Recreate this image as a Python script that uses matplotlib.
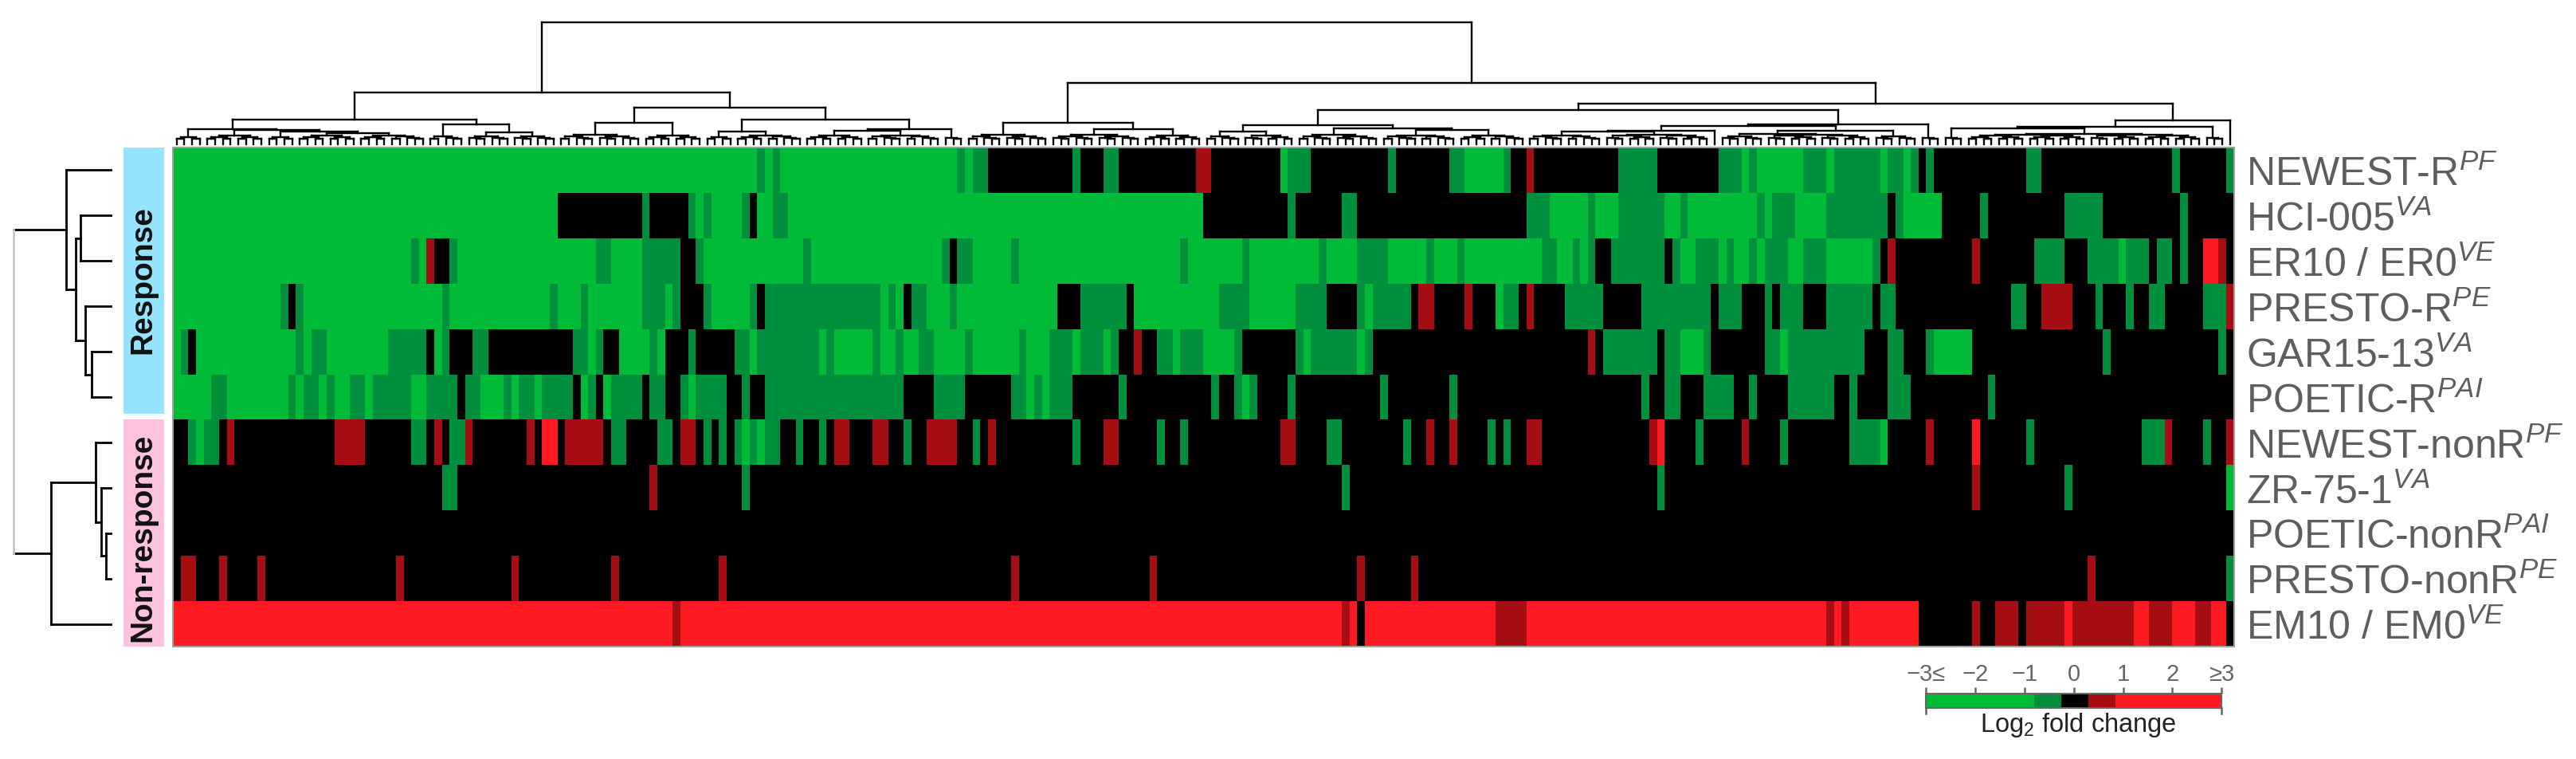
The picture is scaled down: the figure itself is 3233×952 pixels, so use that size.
import matplotlib
matplotlib.use("Agg")
import matplotlib.pyplot as plt
import numpy as np
from matplotlib.colors import ListedColormap, BoundaryNorm
from matplotlib.patches import Rectangle

plt.rcParams["font.family"] = ["Liberation Sans", "DejaVu Sans"]
plt.rcParams["mathtext.fontset"] = "custom"
plt.rcParams["mathtext.rm"] = "Liberation Sans"
plt.rcParams["mathtext.it"] = "Liberation Sans:italic"
plt.rcParams["mathtext.default"] = "regular"

W, H = 3233, 953

# log2 fold change levels
G, g, K, r, R = -2.0, -0.5, 0.0, 0.6, 2.0
n_cols = 268

# every row: (first column, value) pairs, a value holds until the next pair
newest_r = [(0,G),(76,g),(77,G),(78,g),(79,G),(102,g),(103,G),(104,g),(106,K),(117,g),(118,K),(121,g),(123,K),(133,r),(135,K),(144,G),(145,g),(148,K),(158,g),(159,K),(166,g),(168,G),(173,g),(174,K),(176,r),(177,K),(188,g),(193,K),(201,g),(204,G),(205,g),(206,G),(212,g),(215,G),(216,g),(222,G),(223,g),(225,G),(226,g),(227,K),(228,g),(229,K),(241,g),(243,K),(260,g),(261,K),(267,g)]
hci_005 = [(0,G),(50,K),(61,g),(62,K),(67,g),(68,G),(69,g),(70,G),(74,g),(75,K),(76,G),(78,g),(80,G),(134,K),(145,g),(146,K),(152,g),(154,K),(176,g),(179,G),(184,g),(185,G),(188,g),(194,G),(196,g),(197,G),(206,g),(207,G),(208,g),(211,G),(215,g),(223,K),(224,g),(225,G),(230,K),(235,g),(236,K),(246,g),(251,K),(261,g),(262,K)]
er10 = [(0,G),(31,g),(32,G),(33,r),(34,K),(36,g),(37,G),(55,g),(57,G),(61,g),(66,K),(68,g),(69,G),(82,g),(83,G),(100,g),(101,K),(102,g),(104,G),(109,g),(110,G),(131,g),(132,G),(139,g),(140,G),(149,g),(150,G),(154,g),(158,G),(163,g),(164,G),(167,g),(168,G),(178,g),(180,G),(182,g),(183,G),(184,g),(185,K),(187,g),(194,K),(195,g),(196,G),(198,g),(201,G),(202,g),(203,G),(205,g),(206,G),(207,g),(210,G),(212,g),(215,G),(221,g),(222,K),(223,r),(224,K),(234,r),(235,K),(242,g),(246,K),(249,g),(253,G),(254,g),(257,K),(258,g),(260,K),(261,g),(262,K),(264,R),(266,r),(267,K)]
presto_r = [(0,G),(14,g),(15,K),(16,g),(17,G),(35,g),(36,G),(49,g),(50,G),(53,g),(54,G),(61,g),(64,G),(65,g),(66,K),(69,g),(70,G),(75,g),(76,K),(77,g),(92,G),(93,g),(94,G),(95,K),(96,g),(98,G),(101,g),(102,G),(115,K),(118,g),(124,K),(125,G),(136,g),(140,G),(146,g),(150,K),(154,g),(155,G),(156,g),(161,K),(162,r),(164,K),(168,r),(169,K),(172,G),(173,g),(175,K),(176,r),(177,K),(181,g),(186,K),(191,g),(200,K),(201,g),(204,K),(207,g),(208,K),(209,g),(212,K),(215,g),(221,K),(222,g),(224,K),(239,g),(241,K),(243,r),(247,K),(250,g),(251,K),(254,g),(255,K),(257,g),(259,K),(264,g),(267,r)]
gar15 = [(0,G),(1,g),(2,K),(3,G),(16,g),(17,G),(18,g),(20,G),(28,g),(33,K),(34,G),(35,g),(36,K),(39,g),(41,K),(52,g),(54,G),(55,g),(56,K),(58,G),(62,g),(63,G),(64,K),(67,g),(68,K),(73,g),(75,G),(76,g),(84,G),(85,g),(86,G),(91,g),(92,G),(94,g),(95,G),(97,g),(99,G),(103,g),(104,G),(110,g),(111,G),(114,g),(117,G),(118,g),(121,G),(122,g),(123,K),(125,r),(126,K),(128,g),(130,G),(131,g),(134,G),(138,g),(139,K),(146,g),(147,G),(148,g),(154,G),(155,g),(156,K),(184,r),(185,K),(186,g),(193,K),(194,g),(196,G),(199,g),(200,K),(207,g),(209,G),(210,g),(220,K),(223,g),(225,K),(228,g),(229,G),(234,K),(251,g),(252,K),(266,g),(267,K)]
poetic_r = [(0,G),(5,g),(7,G),(15,g),(16,G),(17,g),(19,G),(20,g),(21,G),(23,g),(25,G),(26,g),(31,G),(33,g),(37,K),(38,g),(40,G),(43,g),(44,G),(45,g),(47,G),(48,g),(52,K),(53,G),(54,g),(55,K),(56,G),(57,g),(61,K),(62,g),(64,K),(66,g),(67,G),(68,g),(72,K),(74,g),(75,K),(77,g),(95,K),(99,g),(103,K),(109,g),(111,G),(112,g),(113,G),(114,g),(117,K),(123,g),(124,K),(135,g),(136,K),(138,g),(139,G),(140,g),(141,K),(145,g),(146,K),(157,g),(158,K),(166,g),(167,K),(191,g),(192,K),(194,g),(196,K),(199,g),(203,K),(205,g),(206,K),(210,g),(216,K),(218,g),(219,K),(223,g),(226,K),(236,g),(237,K)]
newest_nonr = [(0,K),(2,g),(3,G),(4,g),(6,K),(7,r),(8,K),(21,r),(25,K),(31,g),(33,K),(34,r),(35,K),(36,g),(38,r),(39,K),(46,r),(47,K),(48,R),(50,K),(51,r),(56,K),(57,g),(59,K),(63,g),(65,K),(66,r),(68,K),(69,g),(70,K),(71,g),(72,K),(73,g),(74,G),(75,g),(76,G),(77,g),(79,K),(81,g),(82,K),(84,g),(85,K),(86,r),(88,K),(91,r),(93,K),(95,g),(96,K),(98,r),(102,K),(104,g),(105,K),(106,r),(107,K),(117,g),(118,K),(121,r),(123,K),(128,g),(129,K),(131,g),(132,K),(144,r),(146,K),(150,g),(152,K),(160,g),(161,K),(163,r),(164,K),(166,r),(167,K),(171,g),(172,K),(173,g),(174,K),(176,r),(178,K),(192,r),(193,R),(194,K),(198,g),(199,K),(204,r),(205,K),(209,g),(210,K),(218,g),(222,G),(223,K),(228,r),(229,K),(234,R),(235,K),(241,g),(242,K),(256,g),(259,r),(260,K),(264,g),(265,K),(267,r)]
zr_75_1 = [(0,K),(35,g),(37,K),(62,r),(63,K),(74,g),(75,K),(152,g),(153,K),(193,g),(194,K),(234,r),(235,K),(246,g),(247,K),(267,G)]
poetic_nonr = [(0,K)]
presto_nonr = [(0,K),(1,r),(3,K),(6,r),(7,K),(11,r),(12,K),(29,r),(30,K),(44,r),(45,K),(57,r),(58,K),(71,r),(72,K),(109,r),(110,K),(127,r),(128,K),(154,r),(155,K),(161,r),(162,K),(249,r),(250,K),(267,g)]
em10 = [(0,R),(65,r),(66,R),(152,r),(153,R),(154,K),(155,R),(172,r),(176,R),(215,r),(216,R),(217,r),(218,R),(227,K),(234,r),(235,K),(237,r),(240,K),(241,r),(246,R),(247,r),(255,R),(257,r),(260,R),(263,r),(265,R),(267,K)]

rows = [newest_r, hci_005, er10, presto_r, gar15, poetic_r, newest_nonr, zr_75_1, poetic_nonr, presto_nonr, em10]
row_labels = ["NEWEST-R$^{\\mathit{PF}}$", "HCI-005$^{\\mathit{VA}}$", "ER10 / ER0$^{\\mathit{VE}}$", "PRESTO-R$^{\\mathit{PE}}$",
              "GAR15-13$^{\\mathit{VA}}$", "POETIC-R$^{\\mathit{PAI}}$", "NEWEST-nonR$^{\\mathit{PF}}$", "ZR-75-1$^{\\mathit{VA}}$",
              "POETIC-nonR$^{\\mathit{PAI}}$", "PRESTO-nonR$^{\\mathit{PE}}$", "EM10 / EM0$^{\\mathit{VE}}$"]

# colour scale
bounds = [-3, -0.8, -0.25, 0.3, 0.85, 3]
colors = ["#00BB38", "#008F3C", "#000000", "#A50E12", "#FF1A22"]
scale_ticks = [-3, -2, -1, 0, 1, 2, 3]
scale_labels = ["\u22123\u2264", "\u22122", "\u22121", "0", "1", "2", "\u22653"]

# trees: (merge height, left, right), a number is a bunch of that many leaves
row_tree = (121.7, (56, 1, (44, (38.3, 1, 1), (32, 1, (24, 1, 1)))),
            (75, (19, 1, (12.3, 1, (6.3, 1, 1))), 1))
col_tree = (153,
            (65,
             (31,
              (19, 4, (18, 8, (16, 4, (14, 8, 9)))),
              (25, 5, (15, 6, 6))),
             (46,
              (27, 11, 8),
              (31, (16, 4, 9), (19, (17, 8, 10), 3)))),
            (77,
             (27, 11, (19, 12, 8)),
             (51,
              (43,
               (24, (16, 5, 7), (20, 11, (18, 10, 9))),
               (25, (23, (17, (16, 10, 14), 1), (17, (13, 6, 14), 6)), 3)),
              (30, (22, (20, 3, (13, 16, 15)), 3), 1))))
# height of a small bunch by its number of leaves, index is the number
twig_heights = [0, 0, 7.5, 8.5, 9.5, 10, 10.3, 10.6, 11, 11.2, 11.4, 11.6, 11.8, 12, 12, 12, 12, 12, 12, 12]


def expand(runs):
    out = np.zeros(n_cols)
    for i, (start, val) in enumerate(runs):
        stop = runs[i + 1][0] if i + 1 < len(runs) else n_cols
        out[start:stop] = val
    return out


def ax_px(x0, y0, x1, y1, **kw):
    return fig.add_axes([x0 / W, 1 - y1 / H, (x1 - x0) / W, (y1 - y0) / H], **kw)


def twig(n):
    if n == 1:
        return 1
    return (twig_heights[n], twig(n // 2), twig(n - n // 2))


def draw_tree(ax, node, start, sideways, lw, bridge="black"):
    # returns centre of the node, its height and the next free leaf
    if isinstance(node, int):
        if node > 1:
            return draw_tree(ax, twig(node), start, sideways, lw)
        return start + 0.5, 0, start + 1
    c1, h1, nxt = draw_tree(ax, node[1], start, sideways, lw)
    c2, h2, nxt = draw_tree(ax, node[2], nxt, sideways, lw)
    h = node[0]
    segs = [([c1, c1], [h1, h], "black"), ([c2, c2], [h2, h], "black"), ([c1, c2], [h, h], bridge)]
    for a, b, col in segs:
        if sideways:
            ax.plot(b, a, color=col, lw=lw, solid_capstyle="projecting", clip_on=False)
        else:
            ax.plot(a, b, color=col, lw=lw, solid_capstyle="projecting", clip_on=False)
    return (c1 + c2) / 2, h, nxt


fig = plt.figure(figsize=(W / 100, H / 100), dpi=100)
cmap = ListedColormap(colors)
norm = BoundaryNorm(bounds, cmap.N)

# heatmap
data = np.array([expand(x) for x in rows])
ax = ax_px(217, 186, 2803.5, 812)
ax.pcolormesh(np.arange(n_cols + 1), np.arange(len(rows) + 1), data, cmap=cmap, norm=norm)
ax.set_ylim(len(rows), 0)
ax.set_xticks([])
ax.yaxis.tick_right()
ax.set_yticks(np.arange(len(rows)) + 0.5)
ax.set_yticklabels(row_labels, fontsize=36, color="#5e5e5e", va="center_baseline")
ax.tick_params(axis="y", length=0, pad=11)
for s in ax.spines.values():
    s.set_color("#a0a0a0")
    s.set_linewidth(1.5)

# column tree
ax_top = ax_px(217, 0, 2803.5, 182)
ax_top.set_xlim(0, n_cols)
ax_top.set_ylim(0, 182)
ax_top.axis("off")
draw_tree(ax_top, col_tree, 0, False, 1.7)

# row tree
ax_left = ax_px(0, 186, 139, 812)
ax_left.set_xlim(139, 0)
ax_left.set_ylim(len(rows), 0)
ax_left.axis("off")
root = row_tree
c1, h1, nxt = draw_tree(ax_left, root[1], 0, True, 2)
c2, h2, nxt = draw_tree(ax_left, root[2], nxt, True, 2)
ax_left.plot([h1, root[0]], [c1, c1], color="black", lw=2, clip_on=False)
ax_left.plot([h2, root[0]], [c2, c2], color="black", lw=2, clip_on=False)
ax_left.plot([root[0], root[0]], [c1, c2], color="#c8c8c8", lw=2, clip_on=False)

# response boxes
over = ax_px(0, 0, W, H)
over.set_xlim(0, W)
over.set_ylim(H, 0)
over.axis("off")
over.patch.set_alpha(0)
over.add_patch(Rectangle((155, 186), 51, 334, color="#95E3FF", lw=0))
over.add_patch(Rectangle((155, 527), 51, 285, color="#FFC2DE", lw=0))
over.text(179, 351, "Response", rotation=90, ha="center", va="center", fontsize=28, fontweight="bold", color="#111111")
over.text(179, 674, "Non-response", rotation=90, ha="center", va="center", fontsize=28, fontweight="bold", color="#111111")

# colour scale
cax = ax_px(2417.3, 871, 2788.3, 888.5)
cax.pcolormesh(bounds, [0, 1], [[-2, -0.5, 0, 0.6, 2]], cmap=cmap, norm=norm)
cax.set_yticks([])
cax.xaxis.tick_top()
cax.set_xticks(scale_ticks)
cax.set_xticklabels(scale_labels, fontsize=21, color="#666666")
cax.tick_params(axis="x", length=6, width=1.8, color="#666666", pad=2)
for s in cax.spines.values():
    s.set_color("#666666")
    s.set_linewidth(1.5)
for end in (-3, 3):
    cax.plot([end, end], [0, -0.42], color="#666666", lw=1.8, clip_on=False)
cax.set_xlim(-3, 3)
cax.set_ylim(0, 1)
over.text(2608, 910, "Log$_2$ fold change", ha="center", va="center", fontsize=23.5, color="#222222")

fig.savefig("out.png", dpi=100)
